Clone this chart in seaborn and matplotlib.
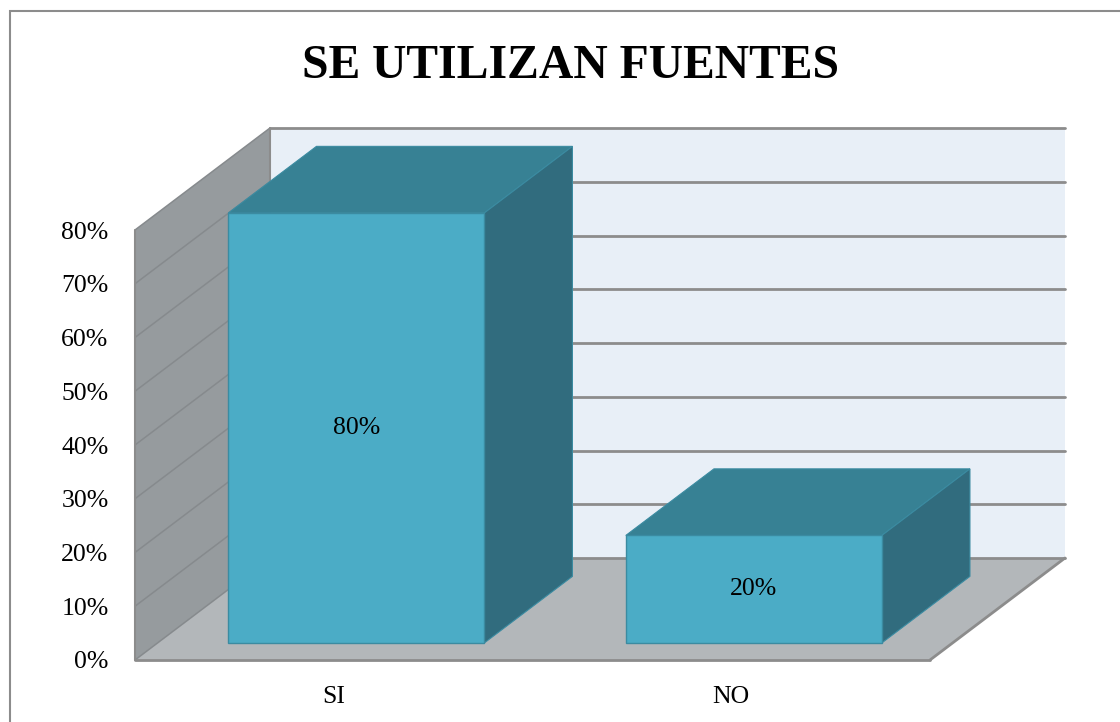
import numpy as np
import pandas as pd
import matplotlib.pyplot as plt
import seaborn as sns
from matplotlib.patches import Polygon, Rectangle
from matplotlib.transforms import Affine2D, IdentityTransform

sns.set_theme(style="white")
plt.rcParams["font.family"] = ["Liberation Serif", "DejaVu Serif"]

# === data ===
title = "SE UTILIZAN FUENTES"
categories = ["SI", "NO"]
values = [0.80, 0.20]
bar_labels = ["80%", "20%"]
y_ticks = [0.0, 0.1, 0.2, 0.3, 0.4, 0.5, 0.6, 0.7, 0.8]
y_tick_labels = ["0%", "10%", "20%", "30%", "40%", "50%", "60%", "70%", "80%"]

# colours (Excel 3D style)
FRONT = "#4BACC6"
TOP = "#378194"
SIDE = "#316C7E"
BAR_EDGE = "#3B8BA1"
LEFT_WALL = "#969B9E"
FLOOR = "#B3B7BA"
BACK_WALL = "#E8EFF7"
GRID = "#8C8C8C"

# depth of the 3d box in pixels, and where the bars sit inside it
DX, DY = 135, 102
F0, F1 = 0.167, 0.82

W, H = 1120, 722
fig = plt.figure(figsize=(W / 100, H / 100), dpi=100)
ax = fig.add_axes([135 / W, 62 / H, 795 / W, 430 / H])

df = pd.DataFrame({"respuesta": categories, "valor": values})
sns.barplot(data=df, x="respuesta", y="valor", color=FRONT, saturation=1,
            width=0.644, edgecolor=BAR_EDGE, linewidth=1, ax=ax, zorder=5)

ax.set_xlim(-0.5, 1.5)
ax.set_ylim(0, 0.8)
ax.patch.set_visible(False)
for s in ax.spines.values():
    s.set_visible(False)
ax.set_xlabel("")
ax.set_ylabel("")
ax.set_yticks(y_ticks, y_tick_labels)
ax.tick_params(axis="both", length=0, pad=19, labelsize=18.5, labelcolor="black")


def proj(x, y, f):
    px, py = ax.transData.transform((x, y))
    return (px + f * DX, py + f * DY)


def face(pts, color, z, ec="none", lw=0):
    ax.add_patch(Polygon(pts, closed=True, facecolor=color, edgecolor=ec, linewidth=lw,
                         transform=IdentityTransform(), clip_on=False, zorder=z))


def seg(p, q, color=GRID, lw=1.5, z=2):
    ax.plot([p[0], q[0]], [p[1], q[1]], color=color, lw=lw,
            transform=IdentityTransform(), clip_on=False, zorder=z)


x0, x1 = ax.get_xlim()
y0, y1 = ax.get_ylim()

# walls and floor
face([proj(x0, y0, 1), proj(x1, y0, 1), proj(x1, y1, 1), proj(x0, y1, 1)], BACK_WALL, 0.5)
face([proj(x0, y0, 0), proj(x0, y1, 0), proj(x0, y1, 1), proj(x0, y0, 1)], LEFT_WALL, 0.6)
face([proj(x0, y0, 0), proj(x1, y0, 0), proj(x1, y0, 1), proj(x0, y0, 1)], FLOOR, 0.7)

for t in y_ticks:
    seg(proj(x0, t, 1), proj(x1, t, 1), lw=2, z=1)
    seg(proj(x0, t, 0), proj(x0, t, 1), color="#868A8D", lw=1.1, z=1)
seg(proj(x0, y0, 0), proj(x0, y1, 0), lw=1.5, z=1)
seg(proj(x0, y1, 1), proj(x0, y0, 1), lw=1.5, z=1)
seg(proj(x0, y0, 0), proj(x1, y0, 0), lw=2, z=1)
seg(proj(x1, y0, 0), proj(x1, y0, 1), lw=2, z=1)

# turn the flat bars into boxes
bars = [p for p in ax.patches if isinstance(p, Rectangle)]
shift = Affine2D().translate(F0 * DX, F0 * DY)
for bar, lab in zip(bars, bar_labels):
    bx, bw, bh = bar.get_x(), bar.get_width(), bar.get_height()
    bar.set_transform(ax.transData + shift)
    bar.set_clip_on(False)
    face([proj(bx, bh, F0), proj(bx + bw, bh, F0), proj(bx + bw, bh, F1), proj(bx, bh, F1)],
         TOP, 4, ec=BAR_EDGE, lw=0.8)
    face([proj(bx + bw, 0, F0), proj(bx + bw, bh, F0), proj(bx + bw, bh, F1), proj(bx + bw, 0, F1)],
         SIDE, 4, ec=BAR_EDGE, lw=0.8)
    ax.text(bx + bw / 2, bh / 2, lab, transform=ax.transData + shift,
            ha="center", va="center", fontsize=18.5, color="black", zorder=6)

# title and outer border (right and bottom edges fall outside the picture)
fig.text(570 / W, 1 - 78 / H, title, ha="center", va="baseline",
         fontsize=34.3, fontweight="bold", color="black")
fig.add_artist(Rectangle((10, -20), W + 40, H - 11 + 20, transform=IdentityTransform(),
                         fill=False, edgecolor="#8C8C8C", linewidth=1.5))

fig.savefig("out.png", dpi=100)
